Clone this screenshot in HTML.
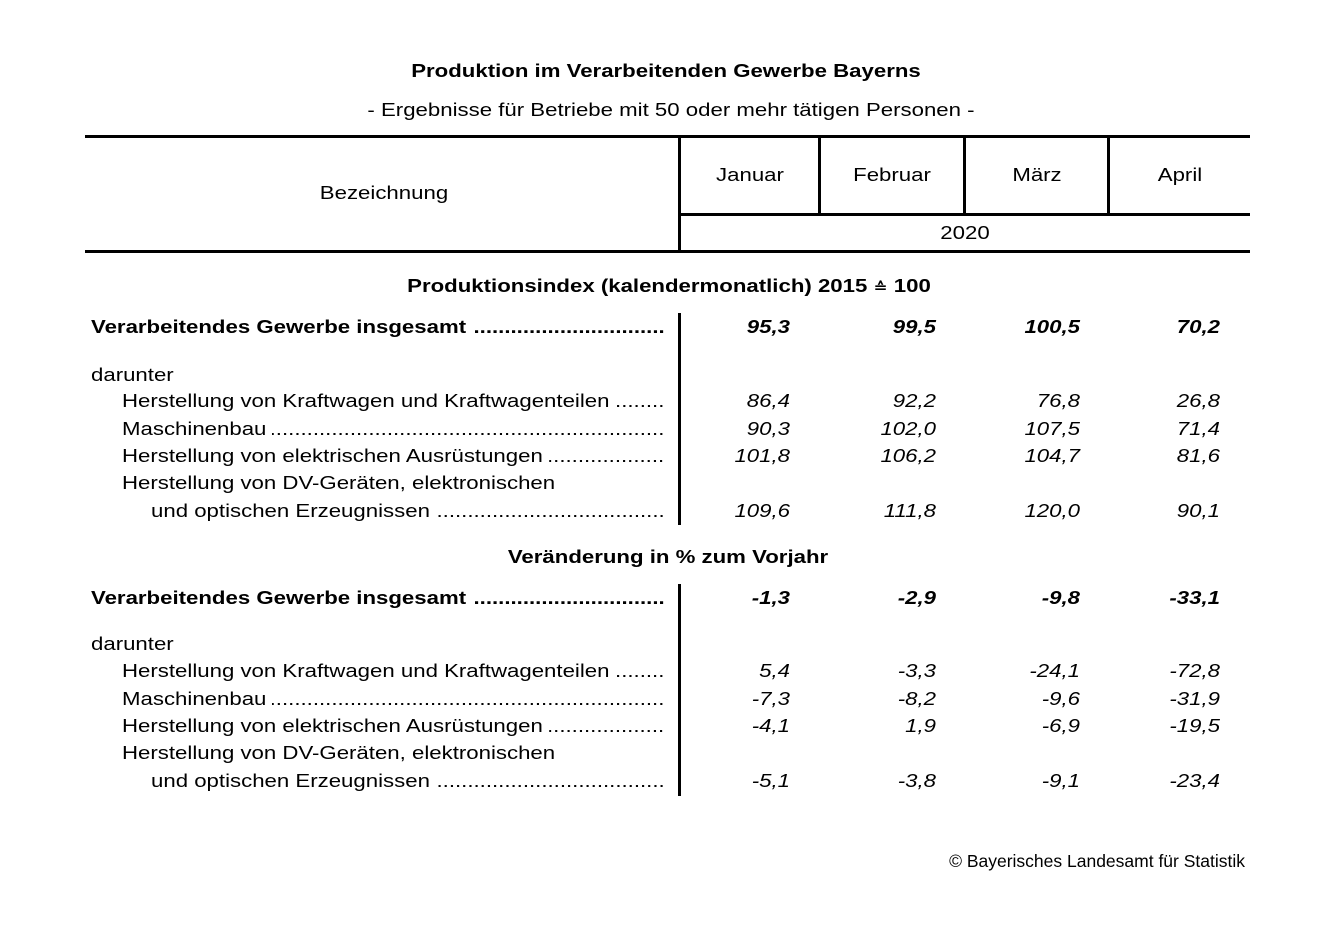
<!DOCTYPE html>
<html>
<head>
<meta charset="utf-8">
<style>
  html, body { margin:0; padding:0; background:#fff; }
  body { width:1341px; height:933px; position:relative; overflow:hidden;
         font-family:"Liberation Sans", Arial, "DejaVu Sans", sans-serif; color:#000; }
  .ln { position:absolute; background:#000; }
  .t { position:absolute; font-size:18.5px; line-height:18.5px; height:18.5px; white-space:nowrap; }
  .c { width:800px; text-align:center; transform:scaleX(1.2); transform-origin:50% 50%; }
  .r { width:200px; text-align:right; transform:scaleX(1.2); transform-origin:100% 50%; font-style:italic; }
  .l { transform:scaleX(1.2); transform-origin:0 50%; }
  .f { display:flex; overflow:hidden; height:25px; align-items:flex-start; }
  .f .lab { flex:none; }
  .f .dots { flex:1 1 auto; min-width:0; overflow:hidden; direction:rtl; text-align:right; white-space:nowrap; height:25px; }
  .b { font-weight:bold; }
  .sym { font-family:"DejaVu Sans", sans-serif; font-size:14px; font-weight:bold; }
</style>
</head>
<body>

<!-- Titles -->
<div class="t c b" style="left:265.5px; top:61.8px;">Produktion im Verarbeitenden Gewerbe Bayerns</div>
<div class="t c" style="left:271px; top:101.3px;">- Ergebnisse für Betriebe mit 50 oder mehr tätigen Personen -</div>

<!-- Header lines -->
<div class="ln" style="left:85px; top:135px; width:1165px; height:3px;"></div>
<div class="ln" style="left:678px; top:135px; width:3px; height:118px;"></div>
<div class="ln" style="left:818px; top:135px; width:3px; height:80px;"></div>
<div class="ln" style="left:963px; top:135px; width:3px; height:80px;"></div>
<div class="ln" style="left:1107px; top:135px; width:3px; height:80px;"></div>
<div class="ln" style="left:678px; top:213px; width:572px; height:2.5px;"></div>
<div class="ln" style="left:85px; top:250px; width:1165px; height:3px;"></div>

<!-- Header text -->
<div class="t c" style="left:-16px; top:183.8px;">Bezeichnung</div>
<div class="t c" style="left:349.5px; top:165.8px;">Januar</div>
<div class="t c" style="left:492px; top:165.8px;">Februar</div>
<div class="t c" style="left:636.5px; top:165.8px;">März</div>
<div class="t c" style="left:780px; top:165.8px;">April</div>
<div class="t c" style="left:565px; top:223.8px;">2020</div>

<!-- Section 1 -->
<div class="t c b" style="left:268.5px; top:276.8px;">Produktionsindex (kalendermonatlich) 2015 <span class="sym">≙</span> 100</div>

<div class="ln" style="left:678px; top:313px; width:3px; height:212px;"></div>

<div class="t l f b" style="left:91px; top:317.8px; width:478px;"><span class="lab">Verarbeitendes Gewerbe insgesamt&nbsp;</span><span class="dots">........................................................................................................................</span></div>
<div class="t l" style="left:91px; top:365.8px;">darunter</div>
<div class="t l f" style="left:122px; top:391.8px; width:452px;"><span class="lab">Herstellung von Kraftwagen und Kraftwagenteilen&nbsp;</span><span class="dots">........................................................................................................................</span></div>
<div class="t l f" style="left:122px; top:419.8px; width:452px;"><span class="lab">Maschinenbau&nbsp;</span><span class="dots">........................................................................................................................</span></div>
<div class="t l f" style="left:122px; top:446.8px; width:452px;"><span class="lab">Herstellung von elektrischen Ausrüstungen&nbsp;</span><span class="dots">........................................................................................................................</span></div>
<div class="t l" style="left:122px; top:473.8px;">Herstellung von DV-Geräten, elektronischen</div>
<div class="t l f" style="left:151px; top:501.8px; width:428px;"><span class="lab">und optischen Erzeugnissen&nbsp;</span><span class="dots">........................................................................................................................</span></div>

<!-- Section 1 numbers -->
<div class="t r b" style="left:590px; top:317.8px;">95,3</div>
<div class="t r b" style="left:736px; top:317.8px;">99,5</div>
<div class="t r b" style="left:880px; top:317.8px;">100,5</div>
<div class="t r b" style="left:1020px; top:317.8px;">70,2</div>

<div class="t r" style="left:590px; top:391.8px;">86,4</div>
<div class="t r" style="left:736px; top:391.8px;">92,2</div>
<div class="t r" style="left:880px; top:391.8px;">76,8</div>
<div class="t r" style="left:1020px; top:391.8px;">26,8</div>

<div class="t r" style="left:590px; top:419.8px;">90,3</div>
<div class="t r" style="left:736px; top:419.8px;">102,0</div>
<div class="t r" style="left:880px; top:419.8px;">107,5</div>
<div class="t r" style="left:1020px; top:419.8px;">71,4</div>

<div class="t r" style="left:590px; top:446.8px;">101,8</div>
<div class="t r" style="left:736px; top:446.8px;">106,2</div>
<div class="t r" style="left:880px; top:446.8px;">104,7</div>
<div class="t r" style="left:1020px; top:446.8px;">81,6</div>

<div class="t r" style="left:590px; top:501.8px;">109,6</div>
<div class="t r" style="left:736px; top:501.8px;">111,8</div>
<div class="t r" style="left:880px; top:501.8px;">120,0</div>
<div class="t r" style="left:1020px; top:501.8px;">90,1</div>

<!-- Section 2 -->
<div class="t c b" style="left:267.5px; top:547.8px;">Veränderung in % zum Vorjahr</div>

<div class="ln" style="left:678px; top:584px; width:3px; height:212px;"></div>

<div class="t l f b" style="left:91px; top:588.8px; width:478px;"><span class="lab">Verarbeitendes Gewerbe insgesamt&nbsp;</span><span class="dots">........................................................................................................................</span></div>
<div class="t l" style="left:91px; top:634.8px;">darunter</div>
<div class="t l f" style="left:122px; top:661.8px; width:452px;"><span class="lab">Herstellung von Kraftwagen und Kraftwagenteilen&nbsp;</span><span class="dots">........................................................................................................................</span></div>
<div class="t l f" style="left:122px; top:689.8px; width:452px;"><span class="lab">Maschinenbau&nbsp;</span><span class="dots">........................................................................................................................</span></div>
<div class="t l f" style="left:122px; top:716.8px; width:452px;"><span class="lab">Herstellung von elektrischen Ausrüstungen&nbsp;</span><span class="dots">........................................................................................................................</span></div>
<div class="t l" style="left:122px; top:743.8px;">Herstellung von DV-Geräten, elektronischen</div>
<div class="t l f" style="left:151px; top:771.8px; width:428px;"><span class="lab">und optischen Erzeugnissen&nbsp;</span><span class="dots">........................................................................................................................</span></div>

<!-- Section 2 numbers -->
<div class="t r b" style="left:590px; top:588.8px;">-1,3</div>
<div class="t r b" style="left:736px; top:588.8px;">-2,9</div>
<div class="t r b" style="left:880px; top:588.8px;">-9,8</div>
<div class="t r b" style="left:1020px; top:588.8px;">-33,1</div>

<div class="t r" style="left:590px; top:661.8px;">5,4</div>
<div class="t r" style="left:736px; top:661.8px;">-3,3</div>
<div class="t r" style="left:880px; top:661.8px;">-24,1</div>
<div class="t r" style="left:1020px; top:661.8px;">-72,8</div>

<div class="t r" style="left:590px; top:689.8px;">-7,3</div>
<div class="t r" style="left:736px; top:689.8px;">-8,2</div>
<div class="t r" style="left:880px; top:689.8px;">-9,6</div>
<div class="t r" style="left:1020px; top:689.8px;">-31,9</div>

<div class="t r" style="left:590px; top:716.8px;">-4,1</div>
<div class="t r" style="left:736px; top:716.8px;">1,9</div>
<div class="t r" style="left:880px; top:716.8px;">-6,9</div>
<div class="t r" style="left:1020px; top:716.8px;">-19,5</div>

<div class="t r" style="left:590px; top:771.8px;">-5,1</div>
<div class="t r" style="left:736px; top:771.8px;">-3,8</div>
<div class="t r" style="left:880px; top:771.8px;">-9,1</div>
<div class="t r" style="left:1020px; top:771.8px;">-23,4</div>

<!-- Footer -->
<div style="position:absolute; left:845px; top:853px; width:400px; text-align:right; font-size:17.5px; line-height:17.5px; white-space:nowrap;">© Bayerisches Landesamt für Statistik</div>

</body>
</html>
